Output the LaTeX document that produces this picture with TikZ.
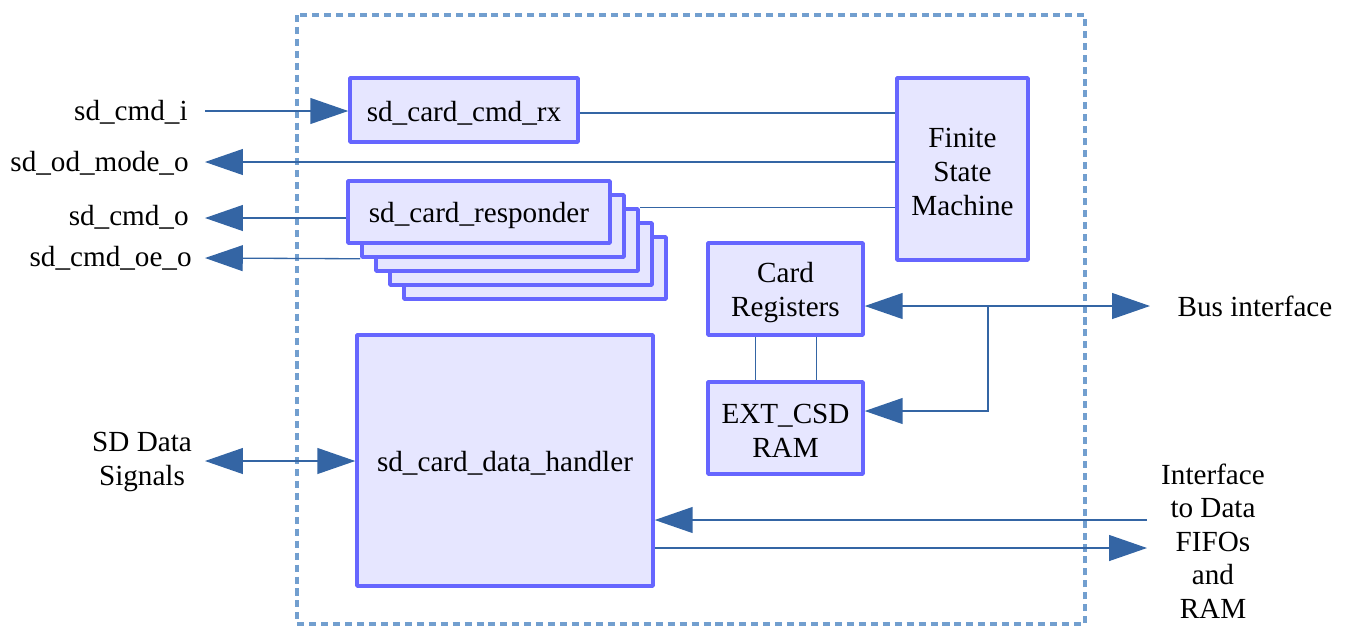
\documentclass[tikz,border=0pt]{standalone}
\usepackage{fontspec}
\setmainfont{Liberation Serif}
\usetikzlibrary{arrows.meta,calc}
\definecolor{boxfill}{HTML}{E6E6FF}
\definecolor{boxline}{HTML}{6666FF}
\definecolor{conn}{HTML}{3465A4}
\definecolor{dashc}{HTML}{729FCF}
\tikzset{
  blk/.style={draw=boxline, fill=boxfill, line width=2pt, line join=round, inner sep=0pt},
  btxt/.style={inner sep=0pt, align=center, yshift=-1.8pt},
  lbl/.style={inner sep=0pt, align=center},
  wire/.style={draw=conn, line width=0.75pt},
  tipA/.style={-{Triangle[length=21.5pt,width=14.7pt]}},
  tipB/.style={{Triangle[length=21.5pt,width=14.7pt]}-{Triangle[length=21.5pt,width=14.7pt]}},
}
\begin{document}
\begin{tikzpicture}[x=0.02cm,y=-0.02cm,font=\fontsize{16.6}{19.3}\selectfont]
\useasboundingbox (0,0) rectangle (1345,626);
% outer dashed boundary
\draw[dashc, line width=2.1pt, dash pattern=on 4pt off 2.8pt] (297,15) rectangle (1085,624);

% blocks
\node[blk, minimum width=228*0.02cm, minimum height=64*0.02cm, label={[btxt]center:sd\_card\_cmd\_rx}] (rx) at (464,110) {};
\node[blk, minimum width=131*0.02cm, minimum height=182*0.02cm, label={[btxt]center:Finite\\State\\Machine}] (fsm) at (962.5,169) {};
% responder stack
\node[blk, minimum width=262*0.02cm, minimum height=62*0.02cm] (resp4) at (535,268) {};
\node[blk, minimum width=262*0.02cm, minimum height=62*0.02cm] (resp3) at (521,254) {};
\node[blk, minimum width=262*0.02cm, minimum height=62*0.02cm] (resp2) at (507,240) {};
\node[blk, minimum width=262*0.02cm, minimum height=62*0.02cm] (resp1) at (493,226) {};
\node[blk, minimum width=262*0.02cm, minimum height=62*0.02cm, label={[btxt]center:sd\_card\_responder}] (resp) at (479,212) {};
\node[blk, minimum width=155*0.02cm, minimum height=92*0.02cm, label={[btxt]center:Card\\Registers}] (reg) at (785.5,289) {};
\node[blk, minimum width=155*0.02cm, minimum height=92*0.02cm, label={[btxt]center:EXT\_CSD\\RAM}] (ext) at (785.5,428) {};
\node[blk, minimum width=296*0.02cm, minimum height=251*0.02cm, label={[btxt]center:sd\_card\_data\_handler}] (dh) at (505,460.5) {};

% labels
\node[lbl, anchor=east] (lcmdi) at (188,112) {sd\_cmd\_i};
\node[lbl, anchor=east] (lod) at (189,163) {sd\_od\_mode\_o};
\node[lbl, anchor=east] (lcmdo) at (189,217) {sd\_cmd\_o};
\node[lbl, anchor=east] (loe) at (192,258) {sd\_cmd\_oe\_o};
\node[lbl] (lsd) at (142,462) {SD Data\\Signals};
\node[lbl] (lbus) at (1255,306) {Bus interface};
\node[lbl, font=\fontsize{16.6}{19.0}\selectfont] (lfifo) at (1213,541) {Interface\\to Data\\FIFOs\\and\\RAM};

% free ends
\coordinate (pcmdi) at (205,111);
\coordinate (pod) at (205,162);
\coordinate (pcmdo) at (205,218);
\coordinate (poe) at (205,258);
\coordinate (psd) at (205,461);
\coordinate (pbus) at (1150,306);
\coordinate (pbr) at (988,306);
\coordinate (pfin) at (1147,520);
\coordinate (pfout) at (1147,548);

% connectors
\draw[wire, tipA, conn] (pcmdi) -- (rx.west |- pcmdi);
\draw[wire] (rx.east |- 0,113) -- (fsm.west |- 0,113);
\draw[wire, tipA] (fsm.west |- pod) -- (pod);
\draw[wire] (resp2.north east) -- (fsm.west |- resp2.north east);
\draw[wire, tipA] (resp.west |- pcmdo) -- (pcmdo);
\draw[wire, tipA] (resp1.south west) -- (poe);
\draw[wire, tipB] (psd) -- (dh.west |- psd);
\draw[wire, tipB] (reg.east |- pbus) -- (pbus);
\draw[wire, tipA] (pbr) |- (ext.east |- 0,411);
\draw[wire] ($(reg.south west)+(49,0)$) -- ($(ext.north west)+(49,0)$);
\draw[wire] ($(reg.south west)+(110,0)$) -- ($(ext.north west)+(110,0)$);
\draw[wire, tipA] (pfin) -- (dh.east |- pfin);
\draw[wire, tipA] (dh.east |- pfout) -- (pfout);
\end{tikzpicture}
\end{document}
